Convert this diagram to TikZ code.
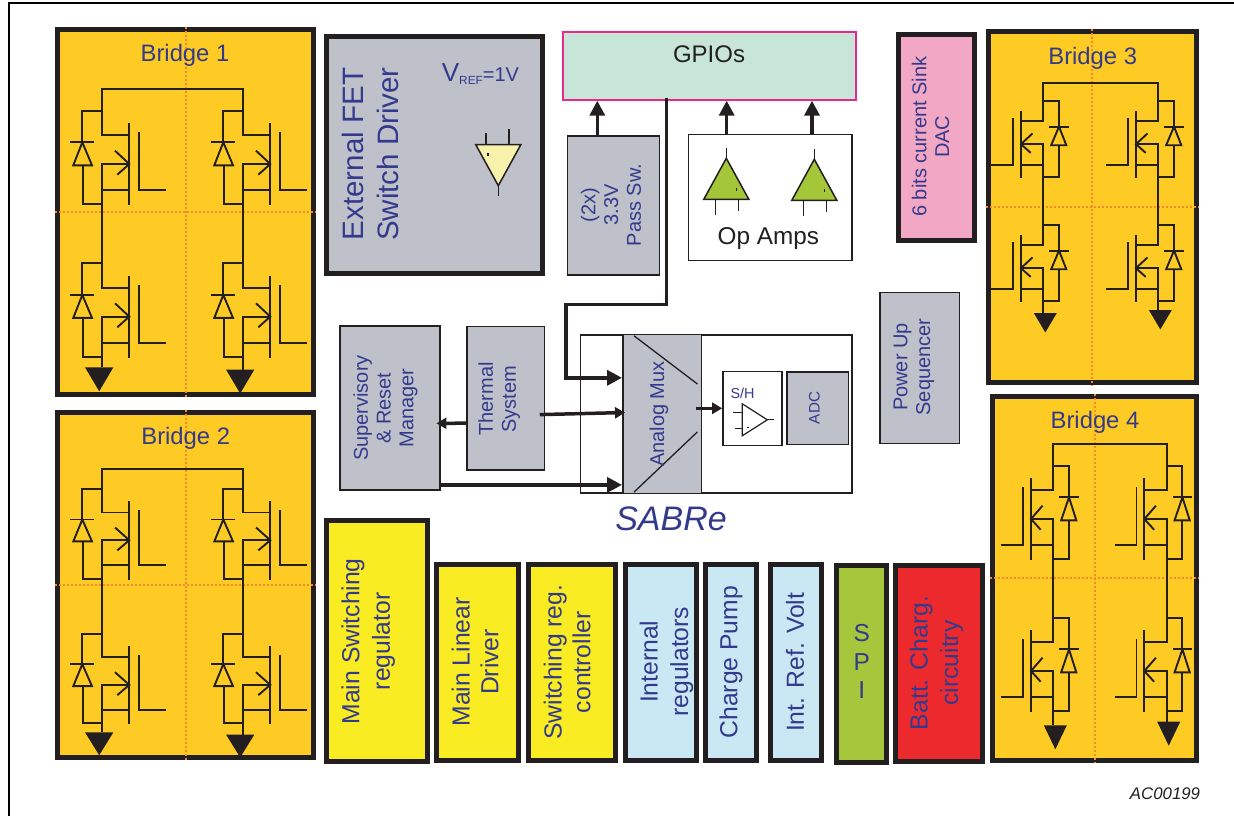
\documentclass[tikz,border=0pt]{standalone}
\usepackage{fontspec}
\setmainfont{Liberation Sans}
\usetikzlibrary{calc,arrows.meta}
\definecolor{bridgefill}{HTML}{FDCB24}
\definecolor{dotorange}{HTML}{F58A2C}
\definecolor{inkdark}{HTML}{231F20}
\definecolor{labelblue}{HTML}{333A8C}
\definecolor{blockgrey}{HTML}{BEC1CA}
\definecolor{regyellow}{HTML}{F9EC23}
\definecolor{reglblue}{HTML}{C9E8F3}
\definecolor{spigreen}{HTML}{A6C63C}
\definecolor{battred}{HTML}{EC2A2E}
\definecolor{dacpink}{HTML}{F2A8C4}
\definecolor{gpiogreen}{HTML}{C8E6D7}
\definecolor{gpiopink}{HTML}{E9288F}
\definecolor{buffyellow}{HTML}{F7F2AC}
\definecolor{ampgreen}{HTML}{A4C639}

\tikzset{
  wire/.style={line width=1.9pt, draw=inkdark},
  bridgebox/.style={draw=inkdark, fill=bridgefill, line width=5pt, inner sep=0pt},
  bridgelabel/.style={text=labelblue, font=\fontsize{23.8}{26}\selectfont},
  orangedot/.style={draw=dotorange, line width=2pt, dash pattern=on 2pt off 2pt},
  thickbox/.style={draw=inkdark, line width=5pt, inner sep=0pt},
  thinbox/.style={draw=inkdark, line width=1.5pt, inner sep=0pt},
  vtextbig/.style={rotate=90, align=center, text=labelblue, font=\fontsize{24.7}{30.5}\selectfont},
  vtextsmall/.style={rotate=90, align=center, text=labelblue, font=\fontsize{20}{22.8}\selectfont},
  bigarrow/.style={line width=3.5pt, draw=inkdark, -{Triangle[length=15pt,width=15pt]}},
  smallarrow/.style={line width=3.5pt, draw=inkdark, -{Triangle[length=10pt,width=11pt]}},
  pics/hsfet/.style={code={
    \coordinate (-top) at (0,0);
    \coordinate (-bot) at (0,93.6);
    % body diode
    \draw[wire] (0,0) -- (-19.4,0) -- (-19.4,31.6);
    \draw[wire] (-31.7,31.6) -- (-7.4,31.6);
    \draw[wire] (-19.4,31.6) -- (-28.4,54.6) -- (-9.7,54.6) -- cycle;
    \draw[wire] (-19,54.6) -- (-19,93.6) -- (0,93.6);
    % drain, channel and gate
    \draw[wire] (0,0) -- (0,24.3) -- (27.6,24.3);
    \draw[wire] (27.6,12.6) -- (27.6,94.6);
    \draw[wire] (37.3,21.6) -- (37.3,79.3) -- (64,79.3);
    % source and body arrow
    \draw[wire] (0,93.6) -- (0,53.3) -- (27.6,53.3);
    \draw[wire] (0,79.3) -- (27.6,79.3);
    \draw[wire] (13.3,40) -- (27.6,53.3) -- (15.6,64);
  }},
  pics/gndfet/.style={code={
    \fill[inkdark] (-16.7,0) -- (11.7,0) -- (-2.5,24) -- cycle;
  }},
  pics/amplifier/.style={code={
    \draw[draw=inkdark, fill=#1] (0,0) -- (-22.5,41) -- (22.5,41) -- cycle;
    \draw[draw=inkdark] (0,0) -- (0,-10.6);
    \draw[draw=inkdark] (-10.6,41) -- (-10.6,56.7);
    \draw[draw=inkdark] (12.4,41) -- (12.4,52.7);
    \draw[draw=inkdark] (10.4,30) -- (10.4,33);
  }}
}

\begin{document}
\begin{tikzpicture}[x=1pt, y=-1pt]
\useasboundingbox (0,0) rectangle (1234,816);

% page rules, top and left
\draw[line width=2pt, draw=black] (1234,3.5) -- (8.5,3.5) -- (8.5,816);

% =================== H bridges ===================
\foreach \b/\cx/\cy/\w/\h/\lx/\ly/\lbl in {
  bridgeA/185.7/211.9/256/365.7/185/55.3/{Bridge 1},
  bridgeB/185.7/585.2/256/345.5/185.7/438.7/{Bridge 2},
  bridgeC/1092.3/206.8/207.5/351.5/1092.7/58/{Bridge 3},
  bridgeD/1094.7/578.3/204.3/363.5/1095/422.7/{Bridge 4}}{
  \node[bridgebox, minimum width=\w pt, minimum height=\h pt] (\b) at (\cx,\cy) {};
  \draw[orangedot] (\b.north) -- (\b.south);
  \draw[orangedot] (\b.west) -- (\b.east);
  \node[bridgelabel] (\b lbl) at (\lx,\ly) {\lbl};
}

% four FETs per bridge: left/right columns, upper/lower rows, top rail, ground tops
\foreach \b/\xa/\xb/\ya/\yb/\yr/\sx/\sy/\ga/\gb in {
  bridgeA/101.7/242.7/110.7/263.3/89.3/1/1/367.3/369.5,
  bridgeB/101.7/242.7/489.3/634/469/1/0.955/732.3/734.5,
  bridgeC/1043.3/1158.3/101/225/83.3/-0.81/0.81/313/310,
  bridgeD/1053.3/1166.7/465.7/617.7/444/-0.81/1/725.3/721.7}{
  \pic[xscale=\sx, yscale=\sy] (\b-ul) at (\xa,\ya) {hsfet};
  \pic[xscale=\sx, yscale=\sy] (\b-ll) at (\xa,\yb) {hsfet};
  \pic[xscale=\sx, yscale=\sy] (\b-ur) at (\xb,\ya) {hsfet};
  \pic[xscale=\sx, yscale=\sy] (\b-lr) at (\xb,\yb) {hsfet};
  \draw[wire] (\b-ul-top) -- (\xa,\yr) -- (\xb,\yr) -- (\b-ur-top);
  \draw[wire] (\b-ul-bot) -- (\b-ll-top);
  \draw[wire] (\b-ur-bot) -- (\b-lr-top);
  \draw[wire] (\b-ll-bot) -- (\xa,\ga);
  \draw[wire] (\b-lr-bot) -- (\xb,\gb);
  \pic[xscale=\sx, yscale=\sy] (\b-gl) at (\xa,\ga) {gndfet};
  \pic[xscale=\sx, yscale=\sy] (\b-gr) at (\xb,\gb) {gndfet};
}

% =================== thick framed blocks ===================
\foreach \n/\col/\cx/\cy/\w/\h/\tx/\ty/\txt in {
  mainsw/regyellow/377.2/641.2/100.7/240.7/368.2/641.3/{Main Switching\\regulator},
  intreg/reglblue/661.3/662.5/71/196.6/666.5/661.7/{Internal\\regulators},
  chgpump/reglblue/730.9/662.5/51.3/196.6/731/662.3/{Charge Pump},
  intref/reglblue/795.9/662.5/50.7/196.6/795/662.3/{Int. Ref. Volt},
  batt/battred/938.9/663.8/87.3/196/936.4/663/{Batt. Charg.\\circuitry}}{
  \node[thickbox, fill=\col, minimum width=\w pt, minimum height=\h pt] (\n) at (\cx,\cy) {};
  \node[vtextbig] (\n txt) at (\tx,\ty) {\txt};
}

\foreach \n/\cx/\cy/\w/\h/\tx/\ty/\txt in {
  mainlin/477.4/662.5/81.7/196/475.2/662/{Main Linear\\Driver},
  swreg/571.9/662.7/86.7/196.3/567.2/662.2/{Switching reg.\\controller}}{
  \node[thickbox, fill=regyellow, minimum width=\w pt, minimum height=\h pt] (\n) at (\cx,\cy) {};
  \node[vtextbig, font=\fontsize{24.7}{28.7}\selectfont] (\n txt) at (\tx,\ty) {\txt};
}

\node[thickbox, fill=spigreen, minimum width=49.7pt, minimum height=196.7pt] (spi) at (861.4,664.2) {};
\node[align=center, text=labelblue, font=\fontsize{24.5}{28.3}\selectfont] (spitxt) at (861.7,661.5) {S\\P\\I};

\node[thickbox, fill=blockgrey, minimum width=216pt, minimum height=237.5pt] (extfet) at (434.5,154.8) {};
\node[vtextbig, font=\fontsize{29.5}{35}\selectfont] (extfettxt) at (370,154) {External FET\\Switch Driver};
\node[text=labelblue, anchor=base west, inner sep=0pt] (vref) at (441.7,81.7)
  {\fontsize{26}{26}\selectfont V\fontsize{11.8}{12}\selectfont\raisebox{-2.7pt}{REF}\fontsize{20}{20}\selectfont=1V};
\pic[rotate=180, line width=1.5pt] (buffer) at (498.3,185.7) {amplifier=buffyellow};

\node[thickbox, fill=dacpink, minimum width=76pt, minimum height=206.6pt] (dac) at (936.2,137.5) {};
\node[vtextsmall] (dactxt) at (930.5,136.7) {6 bits current Sink\\DAC};

% =================== GPIOs and op amps ===================
\node[draw=gpiopink, fill=gpiogreen, line width=2pt, inner sep=0pt, minimum width=292.4pt, minimum height=68pt] (gpio) at (709.5,65.7) {};
\node[text=inkdark, font=\fontsize{24}{26}\selectfont] (gpiotxt) at (709,54) {GPIOs};

\node[draw=inkdark, fill=white, line width=1.5pt, inner sep=0pt, minimum width=163.5pt, minimum height=126pt] (opamps) at (770,197.7) {};
\node[text=inkdark, font=\fontsize{24.3}{26}\selectfont] (opampstxt) at (768.3,239) {Op Amps};
\pic[line width=1.5pt] (ampa) at (726.3,158.3) {amplifier=ampgreen};
\pic[line width=1.5pt] (ampb) at (814.3,159.3) {amplifier=ampgreen};

% =================== grey blocks ===================
\foreach \n/\cx/\cy/\w/\h/\tx/\ty/\txt in {
  passsw/613.5/205.5/92/139/611/205/{(2x)\\3.3V\\Pass Sw.},
  sup/390.1/408.2/100.2/164/385.5/408/{Supervisory\\\& Reset\\Manager},
  thermal/505.8/398.3/77.4/143.6/499.2/399/{Thermal\\System},
  power/919.7/367.9/79.3/150.9/914/367/{Power Up\\Sequencer}}{
  \node[thinbox, fill=blockgrey, minimum width=\w pt, minimum height=\h pt] (\n) at (\cx,\cy) {};
  \node[vtextsmall] (\n txt) at (\tx,\ty) {\txt};
}

% =================== SABRe core ===================
\node[thinbox, fill=white, minimum width=271.5pt, minimum height=158pt] (sabre) at (716,414) {};
\node[thinbox, fill=blockgrey, minimum width=78.5pt, minimum height=159pt] (mux) at (662,414) {};
\draw[line width=1.3pt, draw=inkdark] (634,335.8) -- (697.4,384);
\draw[line width=1.3pt, draw=inkdark] (634,492.1) -- (697.4,431.9);
\node[vtextsmall] (muxtxt) at (658.9,414) {Analog Mux};

\node[thinbox, fill=white, minimum width=58.9pt, minimum height=74pt] (shbox) at (752.4,408.3) {};
\node[text=labelblue, font=\fontsize{14.4}{16}\selectfont] (shtxt) at (742.5,393.3) {S/H};
\pic[rotate=-90, xscale=0.71, yscale=0.61, line width=1.2pt] (shamp) at (767.3,419.8) {amplifier=white};
\node[thinbox, fill=blockgrey, minimum width=61.2pt, minimum height=72.6pt] (adc) at (817.7,408.3) {};
\node[vtextsmall, font=\fontsize{15.2}{17}\selectfont] (adctxt) at (814.5,408) {ADC};

\node[text=labelblue, font=\fontsize{34}{36}\selectfont\itshape] (sabretxt) at (671,519) {SABRe};
\node[text=inkdark, font=\fontsize{16.8}{18}\selectfont\itshape] (figref) at (1165,794) {AC00199};

% =================== connectors ===================
\draw[bigarrow] ([xshift=-16.2pt]passsw.north) -- ([xshift=-16.2pt]passsw.north |- gpio.south);
\draw[bigarrow] ([xshift=-43.3pt]opamps.north) -- ([xshift=-43.3pt]opamps.north |- gpio.south);
\draw[bigarrow] ([xshift=42pt]opamps.north) -- ([xshift=42pt]opamps.north |- gpio.south);
\draw[bigarrow] ([xshift=-42.8pt,yshift=3pt]gpio.south) -- (666.7,304.5) -- (566.2,304.5) -- (566.2,377.8) -- (mux.west |- 0,377.8);
\draw[bigarrow] (sup.east |- 0,484.9) -- (mux.west |- 0,484.9);
\draw[smallarrow, shorten >=-4.5pt] ([yshift=-24.9pt]thermal.west) -- (sup.east |- 0,423.3);
\draw[smallarrow, shorten >=-3pt] ([xshift=-5.5pt,yshift=-16.3pt]thermal.east) -- (mux.west |- 0,412.6);
\draw[smallarrow] ([xshift=-6pt]mux.east |- shbox.west) -- (shbox.west);

\end{tikzpicture}
\end{document}
